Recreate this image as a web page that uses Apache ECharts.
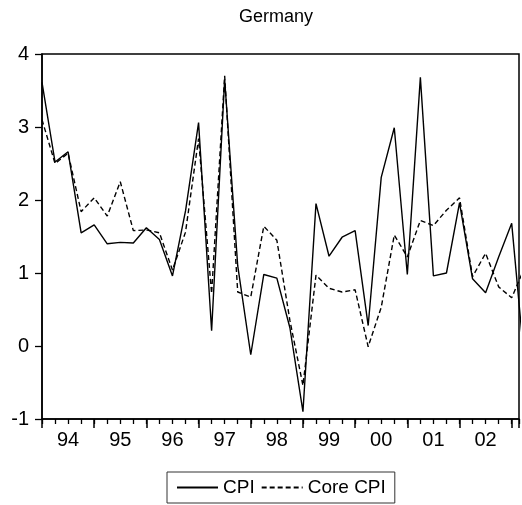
<!DOCTYPE html>
<html>
<head>
<meta charset="utf-8">
<script src="https://cdn.jsdelivr.net/npm/echarts@6/dist/echarts.min.js"></script>
<style>
html,body{margin:0;padding:0;background:#fff;}
#chart{width:522px;height:505px;}
</style>
</head>
<body>
<div id="chart"></div>
<script>
// Quarterly observations, 1994Q1 onward (last one is cut off by the frame)
var quarters = ['1994Q1','1994Q2','1994Q3','1994Q4','1995Q1','1995Q2','1995Q3','1995Q4',
  '1996Q1','1996Q2','1996Q3','1996Q4','1997Q1','1997Q2','1997Q3','1997Q4',
  '1998Q1','1998Q2','1998Q3','1998Q4','1999Q1','1999Q2','1999Q3','1999Q4',
  '2000Q1','2000Q2','2000Q3','2000Q4','2001Q1','2001Q2','2001Q3','2001Q4',
  '2002Q1','2002Q2','2002Q3','2002Q4','2003Q1','2003Q2'];
var cpi = [3.61,2.52,2.66,1.55,1.66,1.40,1.42,1.41,1.62,1.46,0.96,1.85,
  3.06,0.21,3.65,1.10,-0.12,0.98,0.93,0.25,-0.90,1.95,1.23,1.49,
  1.58,0.28,2.31,2.99,0.98,3.68,0.96,1.00,1.96,0.92,0.73,1.22,1.68,-0.27];
var coreCpi = [3.10,2.50,2.64,1.84,2.03,1.78,2.25,1.58,1.59,1.55,1.04,1.56,
  2.84,0.72,3.70,0.74,0.67,1.64,1.45,0.35,-0.54,0.97,0.79,0.74,
  0.77,-0.01,0.53,1.52,1.22,1.72,1.65,1.86,2.03,0.95,1.27,0.81,0.66,1.08];
var yearLabels = ['94','95','96','97','98','99','00','01','02'];
var yTicks = [-1,0,1,2,3,4];

var FONT = 'Liberation Sans, Arial, sans-serif';
function pairs(arr){ return arr.map(function(v,i){ return [i, v]; }); }

var chart = echarts.init(document.getElementById('chart'));
var xMax = 36.56;
chart.setOption({
  animation:false,
  backgroundColor:'#fff',
  title:{text:'Germany', left:234, top:3,
    textStyle:{fontFamily:FONT, fontWeight:'normal', fontSize:18, color:'#000'}},
  grid:{left:42, right:0, top:54, bottom:86, show:true, borderColor:'#000', borderWidth:1.5, backgroundColor:'transparent'},
  legend:{left:167, top:472, orient:'horizontal', borderColor:'#333', borderWidth:1,
    padding:[6,9,6,9], itemWidth:41, itemHeight:18, itemGap:6,
    itemStyle:{opacity:0, borderWidth:0},
    textStyle:{fontFamily:FONT, fontSize:19, color:'#000'},
    data:['CPI','Core CPI']},
  xAxis:[
    {type:'value', min:0, max:xMax, interval:1, position:'bottom',
     axisLine:{show:true, onZero:false, lineStyle:{color:'#000', width:1.5}},
     axisTick:{show:true, inside:false, length:5, lineStyle:{color:'#000', width:1.3}},
     axisLabel:{show:true, margin:11, fontFamily:FONT, fontSize:20, color:'#000',
       formatter:function(v){
         if (Math.abs(v-Math.round(v))>1e-6) return '';
         var k = Math.round(v);
         if (k % 4 === 2) { var y = (k-2)/4; return yearLabels[y] || ''; }
         return '';
       }},
     splitLine:{show:false}},
    {type:'value', min:0, max:xMax, interval:4, position:'bottom',
     axisLine:{show:false, onZero:false},
     axisTick:{show:true, inside:false, length:9, lineStyle:{color:'#000', width:1.5}},
     axisLabel:{show:false}, splitLine:{show:false}}
  ],
  yAxis:{type:'value', min:yTicks[0], max:yTicks[yTicks.length-1], interval:1,
    axisLine:{show:true, onZero:false, lineStyle:{color:'#000', width:1.5}},
    axisTick:{show:true, inside:false, length:7, lineStyle:{color:'#000', width:1.3}},
    axisLabel:{margin:13, fontFamily:FONT, fontSize:20, color:'#000'},
    splitLine:{show:false}},
  series:[
    {name:'CPI', type:'line', xAxisIndex:0, data:pairs(cpi), symbol:'none', clip:true,
     lineStyle:{color:'#000', width:1.4, type:'solid'}, itemStyle:{color:'#000'}},
    {name:'Core CPI', type:'line', xAxisIndex:0, data:pairs(coreCpi), symbol:'none', clip:true,
     lineStyle:{color:'#000', width:1.4, type:[5,3]}, itemStyle:{color:'#000'}}
  ]
});
</script>
</body>
</html>
